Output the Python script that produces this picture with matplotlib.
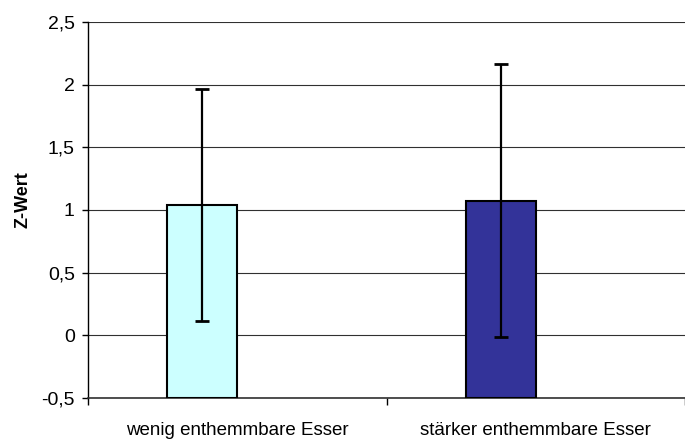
import numpy as np
import matplotlib
matplotlib.use('Agg')
import matplotlib.pyplot as plt

plt.rcParams['font.family'] = ['Liberation Sans', 'DejaVu Sans']

# data
categories = ['wenig enthemmbare Esser', 'stärker enthemmbare Esser']
means = np.array([1.04, 1.075])
errors = np.array([0.925, 1.09])
bar_colors = ['#CCFFFF', '#333399']
yticks = [-0.5, 0, 0.5, 1, 1.5, 2, 2.5]
ytick_labels = ['-0,5', '0', '0,5', '1', '1,5', '2', '2,5']

ymin, ymax = -0.5, 2.5
x = np.arange(len(categories))
w = 0.234

fig = plt.figure(figsize=(6.85, 4.41), dpi=100)
ax = fig.add_axes([88/685, 1 - 398/441, 1 - 88/685, (398 - 22)/441])

# bars hang from the axis minimum like in excel, right edge on category centre
ax.bar(x - w/2, means - ymin, bottom=ymin, width=w, color=bar_colors,
       edgecolor='black', linewidth=1.5, zorder=3)
ax.errorbar(x - w/2, means, yerr=errors, fmt='none', ecolor='black',
            elinewidth=1.6, capsize=5, capthick=2, zorder=4)

ax.set_ylim(ymin, ymax)
ax.set_xlim(-0.5, -0.5 + (685 - 88)/303.7)
ax.set_yticks(yticks)
ax.set_yticklabels(ytick_labels, fontsize=14)
ax.yaxis.grid(True, color='#303030', linewidth=0.8, zorder=0)
ax.set_axisbelow(True)

ax.set_xticks([-0.5, 0.5, 1.5])
ax.set_xticklabels([])
ax.set_xticks(x, minor=True)
ax.set_xticklabels(categories, minor=True, fontsize=13.5)
ax.tick_params(axis='x', which='minor', length=0, pad=17)
ax.tick_params(axis='x', which='major', direction='out', length=5, width=1)
ax.tick_params(axis='y', direction='out', length=4.5, width=1, pad=5)

ax.set_ylabel('Z-Wert', fontsize=13, fontweight='bold')
ax.yaxis.set_label_coords((32 - 88)/597, (398 - 200)/376)

for s in ['top', 'right']:
    ax.spines[s].set_visible(False)
ax.spines['left'].set_linewidth(1)
ax.spines['bottom'].set_linewidth(1.2)
ax.spines['bottom'].set_color('#303030')

fig.savefig('out.png', dpi=100)
